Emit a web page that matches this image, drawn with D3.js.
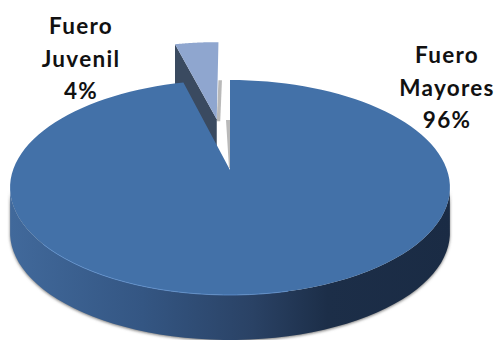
<!DOCTYPE html>
<html>
<head>
<meta charset="utf-8">
<script src="https://cdn.jsdelivr.net/npm/d3@7/dist/d3.min.js"></script>
<style>
html,body{margin:0;padding:0;background:#fff;overflow:hidden}
text{font-family:Lato,"Open Sans",sans-serif;font-weight:700;font-size:22.5px;fill:#111;letter-spacing:1.3px}
</style>
</head>
<body>
<svg id="chart" width="497" height="340"></svg>
<script>
// Share of cases by court
const categories = ["Fuero Mayores", "Fuero Juvenil"];
const shares = [96, 4];
const labelLines = [["Fuero", "Mayores", "96%"], ["Fuero", "Juvenil", "4%"]];
const labelAnchors = [[447, 63], [81, 34]];

const W = 497, H = 340;
const hub = {x: 230, y: 170};
const tilt = 0.163, scaleX = 217, scaleY = 104.65, depth = 45, explode = 0.53;

const svg = d3.select("#chart");
const defs = svg.append("defs");

// Rim shading runs from lit on the left to dark on the right
const rim = defs.append("linearGradient").attr("id", "rim")
  .attr("gradientUnits", "userSpaceOnUse")
  .attr("x1", 10).attr("x2", 451).attr("y1", 0).attr("y2", 0);
[[0, "#41699b"], [0.3, "#345683"], [0.55, "#2a4265"], [0.72, "#1c2e48"], [1, "#1a2b44"]]
  .forEach(([o, c]) => rim.append("stop").attr("offset", o).attr("stop-color", c));

defs.append("filter").attr("id", "soft")
  .attr("x", "-10%").attr("y", "-10%").attr("width", "120%").attr("height", "120%")
  .append("feGaussianBlur").attr("stdDeviation", 1.8);
defs.append("filter").attr("id", "edge")
  .append("feGaussianBlur").attr("stdDeviation", 0.5);

// Perspective projection of the unit pie plane onto the page
function project(u, v) {
  const w = 1 - tilt * v;
  return [hub.x + scaleX * u / w, hub.y + scaleY * v / w];
}

const arcs = d3.pie().sort(null).value(d => d)(shares);
const line = d3.line();

function rimPoints(arc, offset) {
  return d3.range(0, 121).map(i => {
    const a = arc.startAngle + (arc.endAngle - arc.startAngle) * i / 120;
    return project(offset[0] + Math.sin(a), offset[1] - Math.cos(a));
  });
}
const shifted = (pts, dy, dx = 0) => pts.map(p => [p[0] + dx, p[1] + dy]);

const mainArc = arcs[0], sideArc = arcs[1];
const mid = (sideArc.startAngle + sideArc.endAngle) / 2;
const off = [Math.sin(mid) * explode, -Math.cos(mid) * explode];

const mainRim = rimPoints(mainArc, [0, 0]);
const mainTip = project(0, 0);
const sideRim = rimPoints(sideArc, off);
const sideTip = project(off[0], off[1]);
// Front half of the disc, used for the visible wall
const widest = d3.greatest(mainRim, p => p[0]);
const frontRim = mainRim.filter(p => p[1] >= widest[1]);
const wall = frontRim.concat(shifted(frontRim, depth).reverse());

// Soft drop shadows
svg.append("path").attr("d", line(wall) + "Z")
  .attr("fill", "#777").attr("filter", "url(#soft)")
  .attr("transform", "translate(0,1)");
const sideEnd = sideRim[sideRim.length - 1];
svg.append("path").attr("filter", "url(#edge)").attr("fill", "#b9b9b9")
  .attr("d", line([[sideEnd[0], sideEnd[1] + 38], [sideEnd[0] + 3.5, sideEnd[1] + 38],
                   [sideTip[0] + 3.5, sideTip[1] + 2], [sideTip[0], sideTip[1] + 2]]) + "Z");
svg.append("path").attr("filter", "url(#edge)").attr("fill", "#b9b9b9")
  .attr("d", line([[mainTip[0] - 4, mainTip[1] - 50], [mainTip[0], mainTip[1] - 50],
                   [mainTip[0], mainTip[1] - 2], [mainTip[0] - 1, mainTip[1] - 2]]) + "Z");

// Detached slice: cut wall first, then its top face
svg.append("path").attr("fill", "#3a4a60")
  .attr("d", line([sideRim[0], sideTip, [sideTip[0], sideTip[1] + depth], [sideRim[0][0], sideRim[0][1] + depth]]) + "Z");
svg.append("path").attr("fill", "#8fa6cf")
  .attr("d", line([sideTip].concat(sideRim)) + "Z");

// Main slice: outer wall, top face, lit edge along the front
svg.append("path").attr("fill", "url(#rim)").attr("d", line(wall) + "Z");
svg.append("path").attr("fill", "#4371a8")
  .attr("d", line([mainTip].concat(mainRim)) + "Z");
svg.append("path").attr("fill", "none").attr("stroke", "#6394d2").attr("stroke-width", 1)
  .attr("stroke-opacity", .75).attr("filter", "url(#edge)")
  .attr("d", line(mainRim.filter(p => p[1] > 240 && p[0] < 300)));

// Category labels
const lineStep = 32.5;
svg.selectAll("g.label").data(categories).join("g").attr("class", "label")
  .attr("transform", (d, i) => `translate(${labelAnchors[i][0]},${labelAnchors[i][1]})`)
  .selectAll("text").data((d, i) => labelLines[i]).join("text")
  .attr("text-anchor", "middle")
  .attr("y", (d, i) => i * lineStep)
  .text(d => d);
</script>
</body>
</html>
